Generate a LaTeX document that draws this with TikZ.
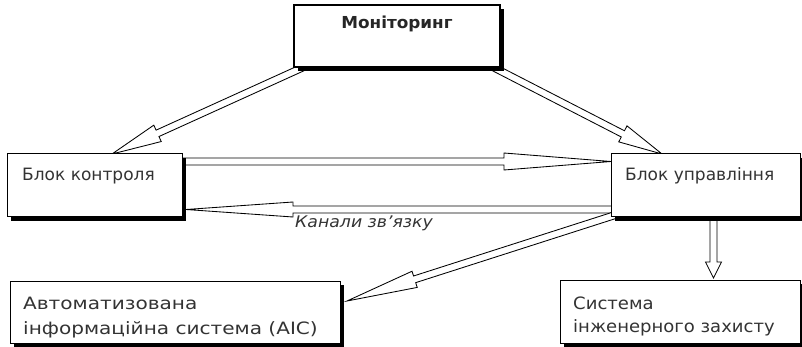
\documentclass[tikz,border=0pt]{standalone}
\usepackage{fontspec}
\setmainfont{DejaVu Sans}
\usetikzlibrary{calc,shadows,backgrounds}
\newcommand\hollowarrow[5]{%
  \path (#2) coordinate (ahB) ($(#2)!#5!(#1)$) coordinate (ahH);
  \draw[arrowsty] ($(#1)!#3!90:(#2)$) -- ($(ahH)!#3!90:(#2)$) -- ($(ahH)!#4!90:(#2)$) -- (#2)
     -- ($(ahH)!#4!-90:(#2)$) -- ($(ahH)!#3!-90:(#2)$) -- ($(#1)!#3!-90:(#2)$) -- cycle;
}
\begin{document}
\begin{tikzpicture}[x=1pt,y=-1pt,
  box/.style={draw=black, line width=1pt, fill=white, inner sep=0pt, rectangle,
    drop shadow={shadow xshift=4pt, shadow yshift=-4pt, fill=black, opacity=1}},
  lbl/.style={inner sep=0pt, anchor=base west, align=left, text=black!80,
    font=\fontsize{17}{23.5}\selectfont},
  arrowsty/.style={draw=black, line width=0.85pt, fill=white, line join=miter}]
\useasboundingbox (0,0) rectangle (802,347);
% boxes
\node[box, line width=1.2pt, minimum width=206pt, minimum height=62pt] (mon) at (397,36) {};
\node[box, minimum width=175pt, minimum height=63pt] (bk) at (94.5,185.5) {};
\node[box, minimum width=189pt, minimum height=63pt] (bu) at (705.5,185.5) {};
\node[box, minimum width=330pt, minimum height=62pt] (ais) at (175,312) {};
\node[box, minimum width=240pt, minimum height=63pt] (sys) at (680,311.5) {};
% labels
\node[inner sep=0pt, anchor=base, text=black!85, font=\fontsize{16.5}{18}\selectfont\bfseries\addfontfeature{FakeStretch=1.02}] (tmon) at (397,29) {Моніторинг};
\node[lbl] (tbk) at (22,181) {Блок контроля};
\node[lbl] (tbu) at (625,181) {Блок управління};
\node[lbl, font=\fontsize{17}{24.5}\selectfont\addfontfeature{FakeStretch=1.18}] (tais) at (23,334) {Автоматизована\\інформаційна система (АІС)};
\node[lbl, font=\fontsize{17}{22.5}\selectfont\addfontfeature{FakeStretch=1.06}] (tsys) at (573,332) {Система\\інженерного захисту};
\node[inner sep=0pt, anchor=base west, text=black!80, font=\fontsize{16}{18}\selectfont\itshape\addfontfeature{FakeStretch=1.08}] (tkan) at (295,227) {Канали зв’язку};
% arrow end points
\coordinate (a1s) at (306,66);   \coordinate (a1e) at (112,154);
\coordinate (a2s) at (487,64);   \coordinate (a2e) at (662,154);
\coordinate (a3s) at (175,161.5);\coordinate (a3e) at (611,161.5);
\coordinate (a4s) at (620,209.5);\coordinate (a4e) at (186,209.5);
\coordinate (a5s) at (621.5,213);\coordinate (a5e) at (347,301);
\coordinate (a6s) at (713.5,210);\coordinate (a6e) at (713.5,278);
\begin{scope}[on background layer]
\hollowarrow{a1s}{a1e}{3.5pt}{9pt}{50pt}
\hollowarrow{a2s}{a2e}{3.5pt}{9pt}{44pt}
\hollowarrow{a3s}{a3e}{3.5pt}{8.5pt}{107pt}
\hollowarrow{a4s}{a4e}{3.5pt}{7.5pt}{107pt}
\hollowarrow{a5s}{a5e}{3.5pt}{8.5pt}{71pt}
\hollowarrow{a6s}{a6e}{3.5pt}{8pt}{16pt}
\end{scope}
\end{tikzpicture}
\end{document}
